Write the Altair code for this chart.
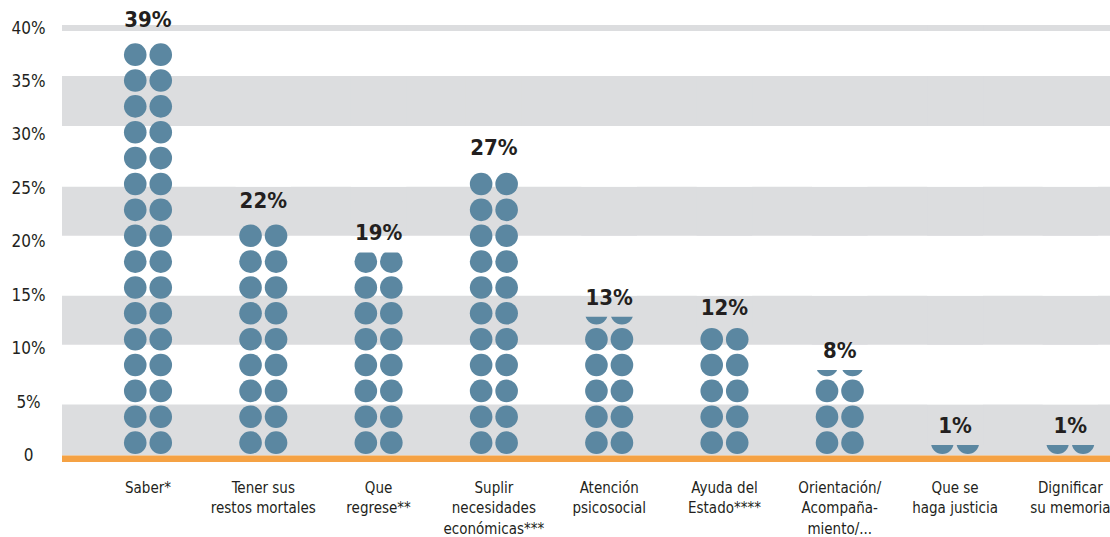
import altair as alt
import pandas as pd

# ---- data ----
categories = [
    "Saber*",
    "Tener sus\nrestos mortales",
    "Que\nregrese**",
    "Suplir\nnecesidades\neconómicas***",
    "Atención\npsicosocial",
    "Ayuda del\nEstado****",
    "Orientación/\nAcompaña-\nmiento/...",
    "Que se\nhaga justicia",
    "Dignificar\nsu memoria",
]
values = [39, 22, 19, 27, 13, 12, 8, 1, 1]
value_labels = ["39%", "22%", "19%", "27%", "13%", "12%", "8%", "1%", "1%"]
y_ticks = [0, 5, 10, 15, 20, 25, 30, 35, 40]
band_lo = [0, 10.37, 20.56, 30.84, 39.72]
band_hi = [4.77, 14.95, 25.14, 35.51, 40.28]

# ---- style / layout constants ----
FONT = "Liberation Sans Narrow, DejaVu Sans Condensed, sans-serif"
TEXT = "#231f20"
GRAY = "#dcdddf"
BLUE = "#5b87a1"
ORANGE = "#f5a244"
PITCH = 2.42      # row pitch of the pictogram, in % units
RAD = 1.056       # circle radius, in % units
Y_DOMAIN = [-0.6, 40.75]
W, H = 1048, 442

# pictogram units: two columns of circles, rows up to the value
rows = []
for cat, v in zip(categories, values):
    k = 0
    while True:
        c = (k + 0.5) * PITCH
        bottom = c - RAD
        if bottom >= v:
            break
        if min(v, c + RAD) - bottom > 0.35:
            for col in (0, 1):
                rows.append({"cat": cat, "col": col, "y": c})
        k += 1
circles = pd.DataFrame(rows)

bars = pd.DataFrame({"cat": categories, "v": values, "label": value_labels})
bands = pd.DataFrame({"lo": band_lo, "hi": band_hi})

# background segments (gray bands and the white gaps between them)
seg_lo, seg_hi, seg_col = [], [], []
prev = 0.0
for lo, hi in zip(band_lo, band_hi):
    if lo > prev:
        seg_lo.append(prev); seg_hi.append(lo); seg_col.append("white")
    seg_lo.append(lo); seg_hi.append(hi); seg_col.append(GRAY)
    prev = hi
seg_lo.append(prev); seg_hi.append(Y_DOMAIN[1]); seg_col.append("white")

# mask above each value, painted with the background of each segment
pieces = []
for cat, v in zip(categories, values):
    for lo, hi, colr in zip(seg_lo, seg_hi, seg_col):
        a = max(lo, v)
        if a < hi:
            pieces.append({"cat": cat, "a": a, "b": hi, "c": colr})
mask = pd.DataFrame(pieces)

xscale = alt.Scale(domain=categories, range=[28.35, 1066], paddingInner=0, paddingOuter=0)
yscale = alt.Scale(domain=Y_DOMAIN, nice=False, zero=False)

yaxis = alt.Axis(
    values=y_ticks,
    labelExpr="datum.value == 0 ? '0' : datum.value + '%'",
    labelAlign="center", labelBaseline="middle", labelPadding=34,
    ticks=False, tickSize=0, domain=False, grid=False,
    labelFont=FONT, labelFontSize=17, labelColor=TEXT, title=None)
xaxis = alt.Axis(
    labelExpr="split(datum.label, '\\n')",
    labelAngle=0, labelAlign="center", labelBaseline="top",
    labelPadding=18, labelLineHeight=20.5, labelOverlap=False, labelLimit=300,
    ticks=False, tickSize=0, domain=False, grid=False,
    labelFont=FONT, labelFontSize=15, labelColor=TEXT, title=None)

X = alt.X("cat:N", scale=xscale, sort=categories, axis=xaxis)

band_layer = alt.Chart(bands).mark_rect(color=GRAY).encode(
    x=alt.value(0),
    x2=alt.value(W),
    y=alt.Y("lo:Q", scale=yscale, axis=yaxis),
    y2="hi:Q",
)

circle_layer = alt.Chart(circles).mark_circle(color=BLUE, opacity=1, size=511).encode(
    x=X,
    xOffset=alt.XOffset("col:N", scale=alt.Scale(range=[32.15, 83.15])),
    y=alt.Y("y:Q", scale=yscale, axis=yaxis),
)

mask_layer = alt.Chart(mask).mark_bar(size=56).encode(
    x=X,
    y=alt.Y("a:Q", scale=yscale, axis=yaxis),
    y2="b:Q",
    color=alt.Color("c:N", scale=None),
)

orange_layer = alt.Chart(pd.DataFrame({"a": [0], "b": [Y_DOMAIN[0]]})).mark_rect(color=ORANGE).encode(
    x=alt.value(0),
    x2=alt.value(W),
    y=alt.Y("a:Q", scale=yscale, axis=yaxis),
    y2="b:Q",
)

label_layer = alt.Chart(bars).mark_text(
    font=FONT, fontWeight="bold", fontSize=22, color=TEXT, baseline="middle", dy=-19
).encode(
    x=X,
    y=alt.Y("v:Q", scale=yscale, axis=yaxis),
    text="label:N",
)

chart = alt.layer(
    band_layer, circle_layer, mask_layer, orange_layer, label_layer
).properties(
    width=W, height=H,
    autosize=alt.AutoSizeParams(type="none"),
    padding={"left": 62, "top": 20, "right": 0, "bottom": 75},
    background="white",
).configure_view(stroke=None)

chart.save("out.html", embed_options={"renderer": "svg", "actions": False})
